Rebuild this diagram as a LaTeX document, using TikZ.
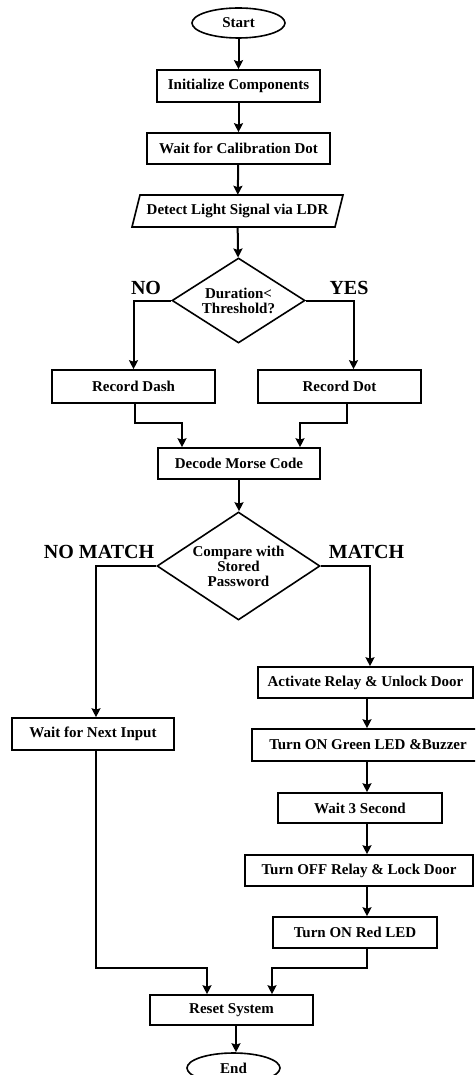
\documentclass[tikz,border=0pt]{standalone}
\usepackage{fontspec}
\setmainfont{Liberation Serif}
\usetikzlibrary{shapes.geometric,arrows.meta}
\begin{document}
\begin{tikzpicture}[x=1pt,y=-1pt,
  box/.style={draw,line width=1.6pt,rectangle,inner sep=0pt,font=\bfseries\fontsize{15}{15}\selectfont},
  term/.style={draw,ellipse,line width=1.6pt,inner sep=0pt,minimum width=93pt,minimum height=30pt,font=\bfseries\fontsize{15}{15}\selectfont},
  dec/.style={draw,diamond,line width=1.6pt,inner sep=0pt,align=center,font=\bfseries\fontsize{15}{15}\selectfont},
  lbl/.style={font=\bfseries\fontsize{20}{20}\selectfont,inner sep=0pt},
  arr/.style={line width=2pt,-{Stealth[length=9pt,width=9pt,inset=1.5pt]}},
]
\useasboundingbox (0,0) rectangle (475,1075);
\clip (0,0) rectangle (475,1075);
% nodes
\node[term] (start) at (238.5,23) {Start};
\node[box,minimum width=163pt,minimum height=32pt] (init) at (238.5,86) {Initialize Components};
\node[box,minimum width=183pt,minimum height=31pt] (waitcal) at (238.5,148.5) {Wait for Calibration Dot};
\node[inner sep=0pt,minimum width=203pt,minimum height=32pt,font=\bfseries\fontsize{15}{15}\selectfont] (detect) at (237.5,211) {Detect Light Signal via LDR};
\draw[line width=1.6pt] (140,195) -- (343,195) -- (335,227) -- (132,227) -- cycle;
\node[dec,shape aspect=1.56,minimum width=133pt,minimum height=85pt] (d1) at (238.5,300.5) {Duration<\\Threshold?};
\node[box,minimum width=163pt,minimum height=33pt] (recdash) at (133.5,386.5) {Record Dash};
\node[box,minimum width=163pt,minimum height=33pt] (recdot) at (339.5,386.5) {Record Dot};
\node[box,minimum width=162pt,minimum height=31pt] (decode) at (239,463.5) {Decode Morse Code};
\node[dec,shape aspect=1.5,minimum width=163pt,minimum height=108pt] (d2) at (238.5,566) {Compare with\\Stored\\Password};
\node[box,minimum width=162pt,minimum height=32pt] (waitnext) at (93,734) {Wait for Next Input};
\node[box,minimum width=215pt,minimum height=31pt] (activate) at (365.5,682.5) {Activate Relay \& Unlock Door};
\node[box,minimum width=232pt,minimum height=32pt] (green) at (368,745) {Turn ON Green LED \&Buzzer};
\node[box,minimum width=164pt,minimum height=30pt] (wait3) at (360,808) {Wait 3 Second};
\node[box,minimum width=228pt,minimum height=31pt] (turnoff) at (359,870.5) {Turn OFF Relay \& Lock Door};
\node[box,minimum width=164pt,minimum height=31pt] (red) at (355,932.5) {Turn ON Red LED};
\node[box,minimum width=163pt,minimum height=30pt] (reset) at (231.5,1010) {Reset System};
\node[term] (end) at (233.5,1068) {End};
% labels
\node[lbl] (lno) at (146,287.5) {NO};
\node[lbl] (lyes) at (349,287.5) {YES};
\node[lbl] (lnomatch) at (99,552) {NO MATCH};
\node[lbl] (lmatch) at (366.5,552) {MATCH};
% helper coordinates
\coordinate (rc) at (367,0);
\coordinate (lc) at (96,0);
\coordinate (ec) at (236,0);
% connectors
\draw[arr] (start) -- (init);
\draw[arr] (init) -- (waitcal);
\draw[arr] (waitcal) -- (detect);
\draw[arr] (detect) -- (d1);
\draw[arr] (d1.west) -| (recdash.north);
\draw[arr] (d1.east) -| ([xshift=14pt]recdot.north);
\coordinate (jl) at (135,423);
\coordinate (jr) at (347,423);
\draw[arr] (recdash.south -| jl) -- (jl) -| ([xshift=-57pt]decode.north);
\draw[arr] (recdot.south -| jr) -- (jr) -| ([xshift=61pt]decode.north);
\draw[arr] (decode) -- (d2.north -| decode);
\draw[arr] (d2.west) -| (waitnext.north -| lc);
\draw[arr] (d2.east) -| ([xshift=4.5pt]activate.north);
\draw[arr] (activate.south -| rc) -- (green.north -| rc);
\draw[arr] (green.south -| rc) -- (wait3.north -| rc);
\draw[arr] (wait3.south -| rc) -- (turnoff.north -| rc);
\draw[arr] (turnoff.south -| rc) -- (red.north -| rc);
\coordinate (jb) at (0,968);
\draw[arr] (red.south -| rc) -- (jb -| rc) -| ([xshift=40.5pt]reset.north);
\draw[arr] (waitnext.south -| lc) -- (jb -| lc) -| ([xshift=-24.5pt]reset.north);
\draw[arr] (reset.south -| ec) -- (end.north -| ec);
\end{tikzpicture}
\end{document}
